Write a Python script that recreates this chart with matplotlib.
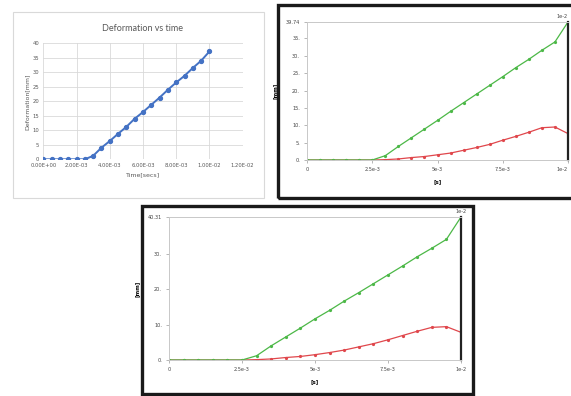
import matplotlib

matplotlib.use("Agg")
import matplotlib.pyplot as plt
from matplotlib.patches import Rectangle
from matplotlib.ticker import FuncFormatter

# time steps shared by all three panels [s]
time_s = [0.0, 5e-4, 1e-3, 1.5e-3, 2e-3, 2.5e-3, 3e-3, 3.5e-3, 4e-3, 4.5e-3,
          5e-3, 5.5e-3, 6e-3, 6.5e-3, 7e-3, 7.5e-3, 8e-3, 8.5e-3, 9e-3,
          9.5e-3, 1e-2]

# panel 1 (spreadsheet chart)
deform_excel = [0, 0, 0, 0, 0, 0, 1.2, 4.0, 6.3, 8.8, 11.2, 14.0, 16.3, 18.8,
                21.3, 24.0, 26.5, 28.8, 31.5, 34.0, 37.2]

# panel 2 (solver plot, top right)
max_top = [0, 0, 0, 0, 0, 0, 1.25, 3.9, 6.4, 8.9, 11.4, 14.0, 16.5, 19.0,
           21.5, 24.0, 26.6, 29.0, 31.6, 34.0, 39.74]
min_top = [0, 0, 0, 0, 0, 0, 0.1, 0.3, 0.7, 1.0, 1.5, 2.0, 2.8, 3.6, 4.5,
           5.7, 6.8, 8.0, 9.3, 9.5, 7.6]
top_label = "39.74"

# panel 3 (solver plot, bottom)
max_bot = [0, 0, 0, 0, 0, 0, 1.2, 4.0, 6.5, 9.0, 11.6, 14.0, 16.6, 19.0,
           21.5, 24.0, 26.5, 29.1, 31.5, 34.0, 40.31]
min_bot = [0, 0, 0, 0, 0, 0, 0.1, 0.3, 0.7, 1.0, 1.5, 2.1, 2.8, 3.7, 4.6,
           5.7, 6.9, 8.1, 9.2, 9.4, 7.8]
bot_label = "40.31"

W, H = 571, 396
fig = plt.figure(figsize=(W / 100, H / 100), dpi=100)
fig.patch.set_facecolor("white")


def px_axes(x0, y0, x1, y1):
    # pixel box (top-left origin) -> figure axes
    return fig.add_axes([x0 / W, 1 - y1 / H, (x1 - x0) / W, (y1 - y0) / H])


def px_rect(x0, y0, x1, y1, **kw):
    fig.patches.append(Rectangle((x0 / W, 1 - y1 / H), (x1 - x0) / W,
                                 (y1 - y0) / H, transform=fig.transFigure,
                                 fill=False, **kw))


# ---- panel 1: spreadsheet chart ----
px_rect(13, 12, 264, 198, edgecolor="#d9d9d9", lw=0.8)
ax = px_axes(43.3, 43.3, 242.7, 159.3)
ax.plot(time_s, deform_excel, "-o", color="#4472c4", lw=1.4, ms=2.8)
ax.set_xlim(0, 1.2e-2)
ax.set_ylim(0, 40)
ax.set_xticks([0, 2e-3, 4e-3, 6e-3, 8e-3, 1e-2, 1.2e-2])
ax.set_yticks(range(0, 41, 5))
ax.xaxis.set_major_formatter(FuncFormatter(lambda v, p: f"{v:.2E}"))
ax.grid(True, color="#d9d9d9", lw=0.6)
ax.set_axisbelow(True)
for s in ax.spines.values():
    s.set_visible(False)
ax.tick_params(length=0, labelsize=3.8, colors="#595959", pad=3)
ax.set_title("Deformation vs time", fontsize=6.5, color="#595959",
             family="Lato", pad=9)
ax.set_xlabel("Time[secs]", fontsize=4.5, color="#595959", labelpad=3)
ax.set_ylabel("Deformation[mm]", fontsize=4.5, color="#595959", labelpad=2)


def solver_panel(box, area, y_max, y_step, top_txt, s_max, s_min,
                 at_edge=False):
    px_rect(*box, edgecolor="#1a1a1a", lw=2.4)
    a = px_axes(*area)
    a.plot(time_s, s_min, "-o", color="#e0474c", lw=0.9, ms=1.3)
    a.plot(time_s, s_max, "-o", color="#4cb847", lw=0.9, ms=1.3)
    a.set_xlim(0, 1e-2)
    a.set_ylim(0, y_max)
    a.set_xticks([0, 2.5e-3, 5e-3, 7.5e-3, 1e-2])
    a.set_xticklabels(["0", "2.5e-3", "5e-3", "7.5e-3", "1e-2"])
    yt = list(range(0, int(y_max), y_step)) + [y_max]
    a.set_yticks(yt)
    a.set_yticklabels([f"{v}." for v in yt[:-1]] + [top_txt])
    for k in ("left", "bottom", "top"):
        a.spines[k].set_color("#c8c8c8")
        a.spines[k].set_linewidth(0.7)
    a.spines["right"].set_color("#222222")
    a.spines["right"].set_linewidth(1.6)
    a.tick_params(length=2, width=0.5, colors="#9a9a9a", labelcolor="#444444",
                  labelsize=3.6, pad=3)
    a.set_xlabel("[s]", fontsize=4, fontweight="bold", labelpad=5)
    a.set_ylabel("[mm]", fontsize=4, fontweight="bold", labelpad=6)
    ha = "center"
    if at_edge:
        a.get_xticklabels()[-1].set_horizontalalignment("right")
        ha = "right"
    a.text(1.0, 1.02, "1e-2", transform=a.transAxes, ha=ha,
           va="bottom", fontsize=3.6, color="#444444")
    return a


solver_panel((278, 5, 574, 198), (307, 22, 568, 160), 39.74, 5, top_label,
             max_top, min_top, at_edge=True)
solver_panel((142, 206, 473, 394), (169, 217, 461, 360), 40.31, 10,
             bot_label, max_bot, min_bot)

fig.savefig("out.png", dpi=100)
